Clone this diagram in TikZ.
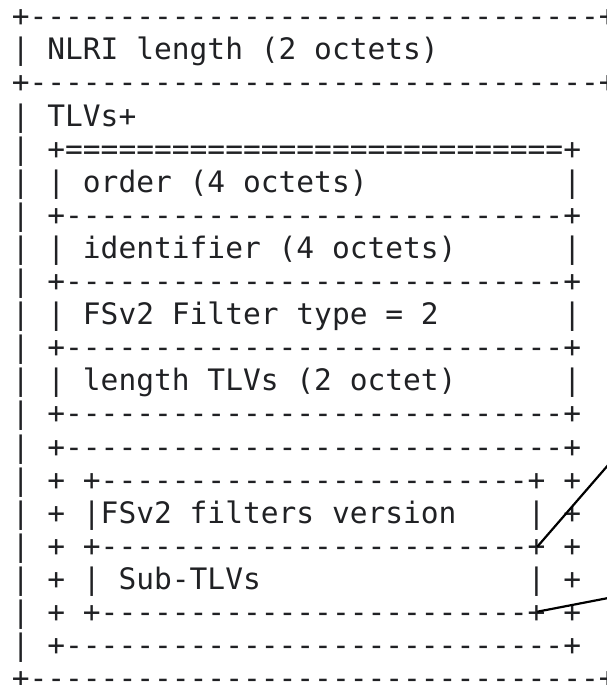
\documentclass[tikz,border=0pt]{standalone}
\usepackage{fontspec}
\setmonofont{DejaVu Sans Mono}
\definecolor{ink}{RGB}{32,33,36}
\tikzset{
  row/.style={anchor=base west, inner sep=0pt, outer sep=0pt, text=ink,
    font=\ttfamily\fontsize{29.55}{33}\selectfont\frenchspacing},
  pointer/.style={draw=black, line width=2.2pt}
}
\begin{document}
\begin{tikzpicture}[x=1pt,y=-1pt]
\useasboundingbox (0,0) rectangle (607,685);
\clip (0,0) rectangle (607,685);
\def\xo{11.8}
\def\rowy#1{15.7+33.1*#1+11}
\node[row] (l0)  at (\xo,{\rowy{0}})  {+--------------------------------+};
\node[row] (l1)  at (\xo,{\rowy{1}})  {|~NLRI~length~(2~octets)};
\node[row] (l2)  at (\xo,{\rowy{2}})  {+--------------------------------+};
\node[row] (l3)  at (\xo,{\rowy{3}})  {|~TLVs+};
\node[row] (l4)  at (\xo,{\rowy{4}})  {|~+============================+};
\node[row] (l5)  at (\xo,{\rowy{5}})  {|~|~order~(4~octets)~~~~~~~~~~~|};
\node[row] (l6)  at (\xo,{\rowy{6}})  {|~+----------------------------+};
\node[row] (l7)  at (\xo,{\rowy{7}})  {|~|~identifier~(4~octets)~~~~~~|};
\node[row] (l8)  at (\xo,{\rowy{8}})  {|~+----------------------------+};
\node[row] (l9)  at (\xo,{\rowy{9}})  {|~|~FSv2~Filter~type~=~2~~~~~~~|};
\node[row] (l10) at (\xo,{\rowy{10}}) {|~+----------------------------+};
\node[row] (l11) at (\xo,{\rowy{11}}) {|~|~length~TLVs~(2~octet)~~~~~~|};
\node[row] (l12) at (\xo,{\rowy{12}}) {|~+----------------------------+};
\node[row] (l13) at (\xo,{\rowy{13}}) {|~+----------------------------+};
\node[row] (l14) at (\xo,{\rowy{14}}) {|~+~+------------------------+~+};
\node[row] (l15) at (\xo,{\rowy{15}}) {|~+~|FSv2~filters~version~~~~|~+};
\node[row] (l16) at (\xo,{\rowy{16}}) {|~+~+------------------------+~+};
\node[row] (l17) at (\xo,{\rowy{17}}) {|~+~|~Sub-TLVs~~~~~~~~~~~~~~~|~+};
\node[row] (l18) at (\xo,{\rowy{18}}) {|~+~+------------------------+~+};
\node[row] (l19) at (\xo,{\rowy{19}}) {|~+----------------------------+};
\node[row] (l20) at (\xo,{\rowy{20}}) {+--------------------------------+};
\coordinate (c16) at (537.3,546.7);
\coordinate (c18) at (537.3,611.7);
\coordinate (e16) at (630,439.8);
\coordinate (e18) at (630,593.8);
\draw[pointer] (c16) -- (e16);
\draw[pointer] (c18) -- (e18);
\end{tikzpicture}
\end{document}
